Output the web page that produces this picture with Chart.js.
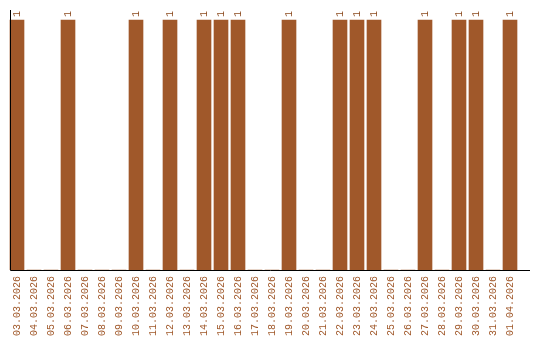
<!DOCTYPE html>
<html>
<head>
<meta charset="utf-8">
<script src="https://cdn.jsdelivr.net/npm/chart.js@4"></script>
<style>
  html, body { margin: 0; padding: 0; background: #fff; }
  #wrap { width: 540px; height: 340px; }
</style>
</head>
<body>
<div id="wrap"><canvas id="datesChart" width="540" height="340"></canvas></div>
<script>
// Dates shown on the x axis
const dateLabels = [
    '03.03.2026', '04.03.2026', '05.03.2026', '06.03.2026', '07.03.2026',
    '08.03.2026', '09.03.2026', '10.03.2026', '11.03.2026', '12.03.2026',
    '13.03.2026', '14.03.2026', '15.03.2026', '16.03.2026', '17.03.2026',
    '18.03.2026', '19.03.2026', '20.03.2026', '21.03.2026', '22.03.2026',
    '23.03.2026', '24.03.2026', '25.03.2026', '26.03.2026', '27.03.2026',
    '28.03.2026', '29.03.2026', '30.03.2026', '31.03.2026', '01.04.2026'
];

// Count per day
const dayCounts = [
    1, 0, 0, 1, 0,
    0, 0, 1, 0, 1,
    0, 1, 1, 1, 0,
    0, 1, 0, 0, 1,
    1, 1, 0, 0, 1,
    0, 1, 1, 0, 1
];

const barColor = '#a0582a';
const labelColor = '#a0582a';
const valueColor = '#8b4a1e';

// Draws the axis lines and the rotated value above each bar
const extrasPlugin = {
    id: 'extras',
    afterDatasetsDraw(chart) {
        const c = chart.ctx;
        const area = chart.chartArea;
        const meta = chart.getDatasetMeta(0);

        c.save();
        c.fillStyle = valueColor;
        c.font = '10px "Liberation Mono", monospace';
        c.textAlign = 'left';
        c.textBaseline = 'middle';
        meta.data.forEach((bar, i) => {
            if (!dayCounts[i]) return;
            c.save();
            c.translate(bar.x, bar.y - 3);
            c.rotate(-Math.PI / 2);
            c.fillText(String(dayCounts[i]), 0, 0);
            c.restore();
        });

        // axis lines
        c.strokeStyle = '#000';
        c.lineWidth = 1;
        c.beginPath();
        c.moveTo(area.left + 2, area.top);
        c.lineTo(area.left + 2, area.bottom + 0.5);
        c.lineTo(area.right + 11.5, area.bottom + 0.5);
        c.stroke();
        c.restore();
    }
};

const ctx = document.getElementById('datesChart').getContext('2d');

const chart = new Chart(ctx, {
    type: 'bar',
    data: {
        labels: dateLabels,
        datasets: [{
            data: dayCounts,
            backgroundColor: barColor,
            borderWidth: 0,
            barThickness: 14
        }]
    },
    options: {
        responsive: false,
        animation: false,
        layout: { padding: { top: 10, left: 8.5, right: 21.5, bottom: 0 } },
        plugins: {
            legend: { display: false },
            tooltip: { enabled: false }
        },
        scales: {
            x: {
                grid: { display: false, drawTicks: false },
                border: { display: false },
                ticks: {
                    color: labelColor,
                    font: { family: '"Liberation Mono", monospace', size: 10 },
                    minRotation: 90,
                    maxRotation: 90,
                    autoSkip: false,
                    padding: 6
                },
                afterFit(scale) { scale.height = 70; }
            },
            y: {
                display: false,
                min: 0,
                max: 1.04
            }
        }
    },
    plugins: [extrasPlugin]
});
</script>
</body>
</html>
